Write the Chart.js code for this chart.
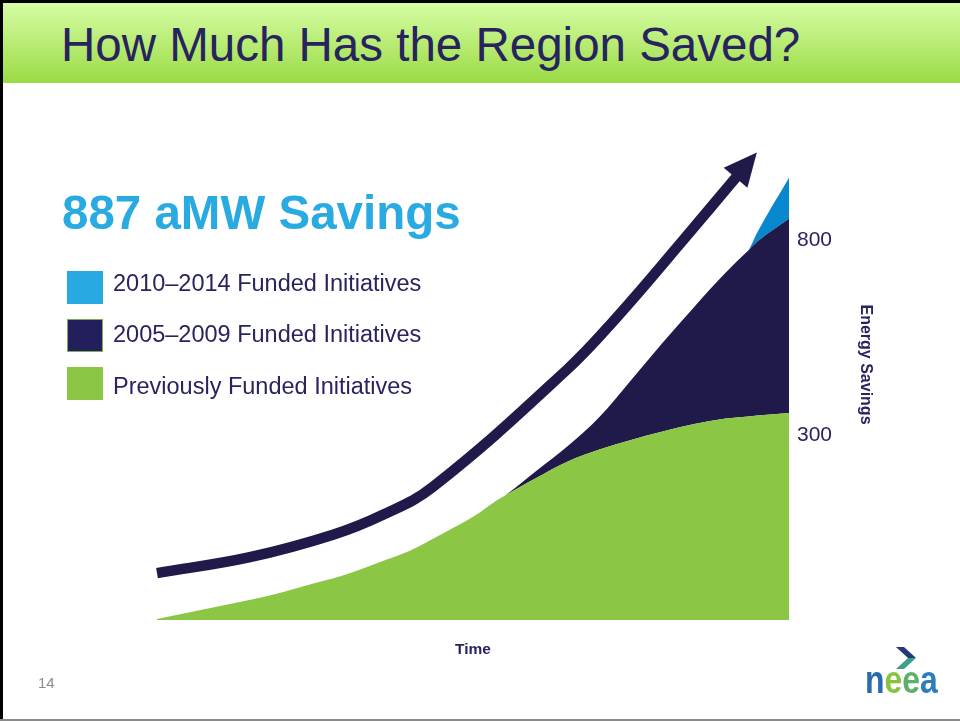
<!DOCTYPE html>
<html><head><meta charset="utf-8">
<script src="https://cdn.jsdelivr.net/npm/chart.js@4/dist/chart.umd.min.js"></script>
<style>
html,body{margin:0;padding:0;background:#fff;}
#slide{position:relative;width:960px;height:721px;overflow:hidden;background:#fff;font-family:"Liberation Sans",Arial,sans-serif;}
#bar{position:absolute;left:0;top:3px;width:960px;height:80px;background:linear-gradient(#d6fda4,#9bdb45);}
#btop{position:absolute;left:0;top:0;width:960px;height:3px;background:#000;}
#bleft{position:absolute;left:0;top:0;width:3px;height:721px;background:#000;}
#bbot{position:absolute;left:0;top:719px;width:960px;height:2px;background:#8a8a8a;}
#title{position:absolute;left:61px;top:21px;font-size:47.5px;line-height:1;color:#27235e;white-space:nowrap;}
#big{position:absolute;left:62px;top:189px;font-size:47.5px;line-height:1;font-weight:bold;color:#29abe2;white-space:nowrap;}
.sq{position:absolute;left:67px;width:36px;height:33px;box-sizing:border-box;}
.lt{position:absolute;left:113px;font-size:23.5px;line-height:1;color:#28245f;white-space:nowrap;}
#pg{position:absolute;left:38px;top:675px;font-size:15px;line-height:1;color:#8c8c8c;}
#logo{position:absolute;left:865px;top:661px;font-size:38px;line-height:1;font-weight:bold;transform:scaleX(0.84);transform-origin:left top;white-space:nowrap;}
canvas{position:absolute;left:0;top:0;}
</style></head>
<body>
<div id="slide">
  <div id="bar"></div><div id="btop"></div><div id="bleft"></div><div id="bbot"></div>
  <div id="title">How Much Has the Region Saved?</div>
  <canvas id="c" width="960" height="721"></canvas>
  <div id="big">887 aMW Savings</div>
  <div class="sq" style="top:271px;background:#29a9e1;"></div>
  <div class="lt" style="top:272px;">2010–2014 Funded Initiatives</div>
  <div class="sq" style="top:319px;background:#231f5c;border:1px solid #7fae4e;"></div>
  <div class="lt" style="top:323px;">2005–2009 Funded Initiatives</div>
  <div class="sq" style="top:367px;background:#8cc645;"></div>
  <div class="lt" style="top:375px;">Previously Funded Initiatives</div>
  <div id="pg">14</div>
  <svg style="position:absolute;left:0;top:0;" width="960" height="721">
    <polygon points="896,647 904,647 916,658 908,658" fill="#233a7a"/>
    <polygon points="908,658 916,658 904,669 896,669" fill="#3aa08a"/>
  </svg>
  <div id="logo"><span style="color:#2a6bb0">n</span><span style="color:#86c440">e</span><span style="color:#5db06a">e</span><span style="color:#2d7dc0">a</span></div>
</div>
<script>
// Time positions (arbitrary time units) shared by the stacked areas
const times = [0,1,2,3,4,5,6,7,8,9,10,11,12,13,14,15,16,17,18,18.7,19,20];
const previouslyFunded = [2,15,28,41,56,74,92,115,139,172,207,249,285,318,342,361,378,393,404,408,410,415];
const funded2005to2009 = [0,0,0,0,0,0,0,0,0,0,0,0,14,31,65,120,178,235,293,332,349,390];
const funded2010to2014 = [0,0,0,0,0,0,0,0,0,0,0,0,0,0,0,0,0,0,0,0,19,82];
// Growth arrow path
const arrowTimes = [0,2.94,5.57,7.15,8.73,12.97,14.56,16.65,18.35];
const arrowValues = [94,126,171,211,267,502,608,762,890];
// Right axis tick labels
const tickValues = [371,762];
const tickLabels = ['300','800'];

const NAVY = '#201a4b';
const FONT = 'Liberation Sans, Arial, sans-serif';
const pts = (xs, ys) => xs.map((x,i)=>({x:x, y:ys[i]}));

const arrowHead = {
  id:'arrowHead',
  afterDatasetsDraw(chart){
    const meta = chart.getDatasetMeta(3);
    const p = meta.data, n = p.length;
    const a = p[n-2], b = p[n-1];
    let dx = b.x-a.x, dy = b.y-a.y; const L = Math.hypot(dx,dy); dx/=L; dy/=L;
    const len = 31, hw = 15.5;
    const bx = b.x - dx*2, by = b.y - dy*2;
    const ctx = chart.ctx;
    ctx.save();
    ctx.fillStyle = NAVY;
    ctx.beginPath();
    ctx.moveTo(b.x+dx*len, b.y+dy*len);
    ctx.lineTo(bx - dy*hw, by + dx*hw);
    ctx.lineTo(bx + dy*hw, by - dx*hw);
    ctx.closePath();
    ctx.fill();
    ctx.restore();
  }
};

new Chart(document.getElementById('c'), {
  type:'line',
  data:{
    datasets:[
      {label:'Previously Funded Initiatives', data:pts(times,previouslyFunded), stack:'s', fill:'origin',
       backgroundColor:'#8cc645', borderWidth:0, pointRadius:0, cubicInterpolationMode:'monotone'},
      {label:'2005–2009 Funded Initiatives', data:pts(times,funded2005to2009), stack:'s', fill:'-1',
       backgroundColor:NAVY, borderWidth:0, pointRadius:0, cubicInterpolationMode:'monotone'},
      {label:'2010–2014 Funded Initiatives', data:pts(times,funded2010to2014), stack:'s', fill:'-1',
       backgroundColor:'#0787ce', borderWidth:0, pointRadius:0, cubicInterpolationMode:'monotone'},
      {label:'arrow', data:pts(arrowTimes,arrowValues), stack:'arrow', fill:false,
       borderColor:NAVY, borderWidth:10.5, pointRadius:0, tension:0.4, clip:false, borderCapStyle:'butt'}
    ]
  },
  options:{
    responsive:false, animation:false, devicePixelRatio:1,
    layout:{padding:{left:157,right:85,top:109,bottom:62}},
    plugins:{legend:{display:false}, tooltip:{enabled:false}},
    scales:{
      x:{type:'linear', min:0, max:20,
         grid:{display:false, drawTicks:false}, border:{display:false}, ticks:{display:false},
         title:{display:true, text:'Time', color:'#28245f', padding:0, font:{family:FONT, size:15.5, weight:'bold'}},
         afterFit(s){ s.height = 39; }},
      y:{position:'right', min:0, max:1025, stacked:true,
         grid:{display:false, drawTicks:false}, border:{display:false},
         afterBuildTicks(s){ s.ticks = tickValues.map(v=>({value:v})); },
         ticks:{padding:8, color:'#28245f', font:{family:FONT, size:21},
                callback:(v)=>{ const i = tickValues.indexOf(v); return i>=0 ? tickLabels[i] : ''; }},
         title:{display:true, text:'Energy Savings', color:'#28245f', padding:0, font:{family:FONT, size:16, weight:'bold'}},
         afterFit(s){ s.width = 86; }}
    }
  },
  plugins:[arrowHead]
});
</script>
</body></html>
